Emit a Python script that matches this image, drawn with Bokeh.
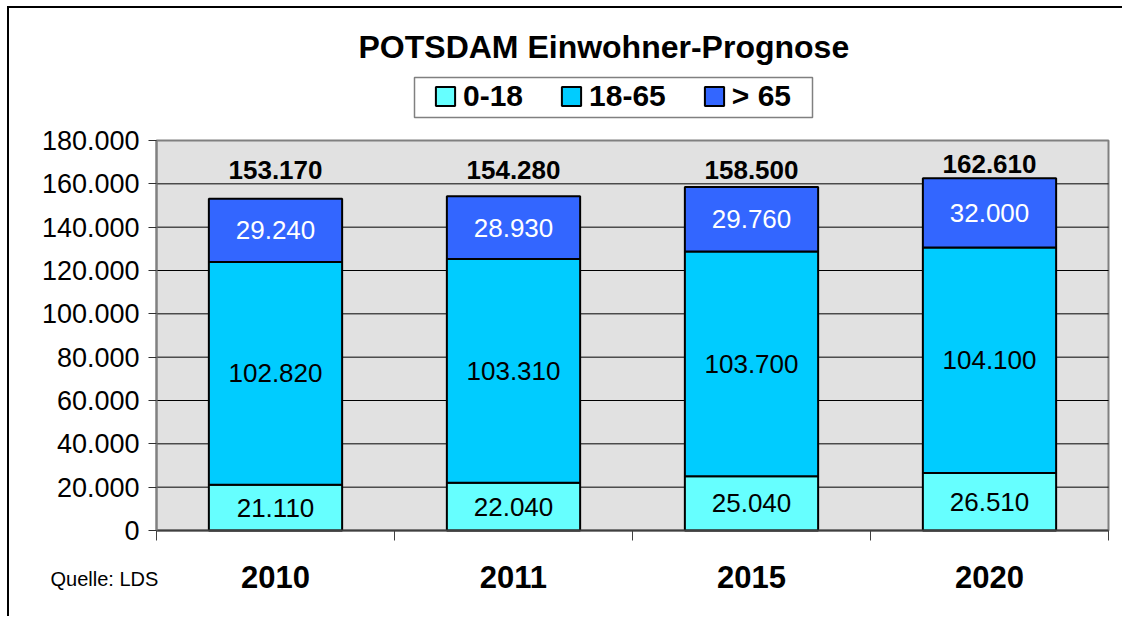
from bokeh.plotting import figure
from bokeh.models import (ColumnDataSource, Range1d, FixedTicker, LabelSet, Label,
                          Legend, LegendItem, BoxAnnotation)
from bokeh.core.properties import value
from bokeh.embed import file_html
from bokeh.resources import INLINE

# ---- data ----
years = ["2010", "2011", "2015", "2020"]
age_0_18 = [21110, 22040, 25040, 26510]
age_18_65 = [102820, 103310, 103700, 104100]
age_65_plus = [29240, 28930, 29760, 32000]
series_names = ["0-18", "18-65", "> 65"]
series_colors = ["#66FFFF", "#00CCFF", "#3366FF"]
label_colors = ["black", "black", "white"]
y_ticks = [0, 20000, 40000, 60000, 80000, 100000, 120000, 140000, 160000, 180000]
title_text = "POTSDAM Einwohner-Prognose"
source_text = "Quelle: LDS"


def de(n):
    return f"{n:,}".replace(",", ".")


FONT = "Liberation Sans"

# ---- layout (canvas pixels) ----
W, H = 1115, 610
PL, PR, PT, PB = 147, 1099, 132, 522   # plot area edges inside the canvas
n = len(years)
ymax = y_ticks[-1]
xs_per_px = n / (PR - PL)
ys_per_px = ymax / (PB - PT)
x_range = Range1d(-PL * xs_per_px, n + (W - PR) * xs_per_px)
y_range = Range1d(-(H - PB) * ys_per_px, ymax + PT * ys_per_px)

x = [i + 0.5 for i in range(n)]
totals = [a + b + c for a, b, c in zip(age_0_18, age_18_65, age_65_plus)]

src = ColumnDataSource(dict(x=x, a=age_0_18, b=age_18_65, c=age_65_plus))

p = figure(width=W, height=H, x_range=x_range, y_range=y_range,
           output_backend="svg", toolbar_location=None,
           min_border=0, background_fill_color="white",
           border_fill_color="white", outline_line_color=None)
p.title.visible = False
p.styles = {"margin-left": "7px", "margin-top": "6px",
            "border-top": "2px solid black", "border-left": "2px solid black"}

# plot area background + outline
p.quad(left=0, right=n, bottom=y_ticks[0], top=ymax,
       fill_color="#E1E1E1", line_color="#808080", line_width=2)
# horizontal grid lines
inner = y_ticks[1:-1]
p.segment(x0=[0] * len(inner), x1=[n] * len(inner), y0=inner, y1=inner,
          line_color="black", line_width=1)

renderers = p.vbar_stack(["a", "b", "c"], x="x", width=0.56, source=src,
                         color=series_colors, line_color="black", line_width=2)

# ---- segment labels ----
lx, ly, lt, lc = [], [], [], []
bottoms = [0] * n
for vals, col in zip([age_0_18, age_18_65, age_65_plus], label_colors):
    for i, v in enumerate(vals):
        lx.append(x[i])
        ly.append(bottoms[i] + v / 2)
        lt.append(de(v))
        lc.append(col)
        bottoms[i] += v
seg_src = ColumnDataSource(dict(x=lx, y=ly, t=lt, c=lc))
p.add_layout(LabelSet(x="x", y="y", text="t", source=seg_src, text_color="c",
                      text_font=value(FONT), text_font_size="26px",
                      text_align="center", text_baseline="middle"))

# ---- totals ----
tot_src = ColumnDataSource(dict(x=x, y=[max(t, y_ticks[-2]) for t in totals],
                                t=[de(t) for t in totals]))
p.add_layout(LabelSet(x="x", y="y", text="t", source=tot_src, y_offset=5,
                      text_font=value(FONT), text_font_style="bold",
                      text_font_size="26px", text_color="black",
                      text_align="center", text_baseline="alphabetic"))

# ---- axes (fixed at the data origin) ----
yax = p.yaxis[0]
yax.fixed_location = 0
yax.bounds = (0, ymax)
yax.ticker = FixedTicker(ticks=y_ticks)
yax.major_label_overrides = {t: de(t) for t in y_ticks}
yax.major_label_text_font = FONT
yax.major_label_text_font_size = "27px"
yax.major_label_text_color = "black"
yax.major_tick_out = 8
yax.major_tick_in = 0
yax.minor_tick_out = 0
yax.minor_tick_in = 0
yax.major_tick_line_color = "#303030"
yax.axis_line_color = "#808080"
yax.axis_line_width = 2
yax.major_label_standoff = 9

xax = p.xaxis[0]
xax.fixed_location = 0
xax.bounds = (0, n)
xax.ticker = FixedTicker(ticks=x, minor_ticks=list(range(n + 1)))
xax.major_label_overrides = {xx: yy for xx, yy in zip(x, years)}
xax.major_label_text_font = FONT
xax.major_label_text_font_style = "bold"
xax.major_label_text_font_size = "31px"
xax.major_label_text_color = "black"
xax.major_tick_line_color = None
xax.major_tick_out = 10
xax.major_tick_in = 0
xax.minor_tick_out = 10
xax.minor_tick_in = 0
xax.minor_tick_line_color = "#404040"
xax.minor_tick_line_width = 1
xax.axis_line_color = "#404040"
xax.axis_line_width = 2
xax.major_label_standoff = 25

p.xgrid.visible = False
p.ygrid.visible = False

# ---- legend frame + legend ----
p.add_layout(BoxAnnotation(left=405, right=803, top=541, bottom=501,
                           left_units="screen", right_units="screen",
                           top_units="screen", bottom_units="screen",
                           fill_color="white", fill_alpha=1,
                           line_color="#808080", line_width=1.5, line_alpha=1))
legend = Legend(items=[LegendItem(label=s, renderers=[r])
                       for s, r in zip(series_names, renderers)],
                location=(420, 501), orientation="horizontal",
                glyph_width=24, glyph_height=24, label_standoff=6,
                spacing=36, padding=4, margin=0,
                label_text_font=FONT, label_text_font_style="bold",
                label_text_font_size="30px", label_text_color="black",
                border_line_alpha=0, background_fill_alpha=0)
p.add_layout(legend)

# ---- title & source ----
p.add_layout(Label(x=349, y=572, x_units="screen", y_units="screen",
                   text=title_text, text_font=FONT, text_font_style="bold",
                   text_font_size="32px", text_align="left",
                   text_baseline="middle", text_color="black"))
p.add_layout(Label(x=41, y=40, x_units="screen", y_units="screen",
                   text=source_text, text_font=FONT, text_font_size="20px",
                   text_align="left", text_baseline="middle",
                   text_color="black"))

open("out.html", "w").write(file_html(p, INLINE))
